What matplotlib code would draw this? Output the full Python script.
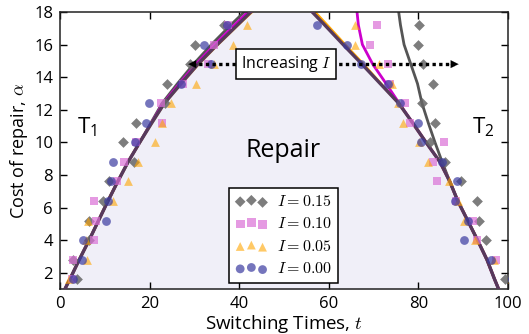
import matplotlib
matplotlib.use("Agg")
import matplotlib.pyplot as plt
import numpy as np

plt.rcParams['font.family'] = ['Open Sans', 'DejaVu Sans']
plt.rcParams['mathtext.fontset'] = 'cm'

# ---------------- data ----------------
levels = [1.6, 2.8, 4.0, 5.2, 6.4, 7.6, 8.8, 10.0, 11.2, 12.4, 13.6, 14.8, 16.0, 17.2]

# scatter: switching times (left boundary T1, right boundary T2) per I
d015_left = [3.7, 3.0, 6.5, 6.4, 9.5, 11.0, 16.5, 14.1, 17.0, 23.5, 23.9, 29.0, 30.1, 36.7]
d015_right = [99.3, 102, 95.2, 93.5, 93.0, 89.6, 85.9, 82.6, 83.6, 80.7, 83.3, 81.1, 79.8, 80.2]
d010_left = [2.6, 2.8, 7.6, 8.1, 7.6, 12.8, 14.3, 16.9, 22.8, 22.6, 27.5, 33.0, 34.4, 37.5]
d010_right = [101.5, 97.3, 93.0, 92.1, 88.4, 84.2, 83.3, 85.7, 78.1, 77.0, 73.7, 73.3, 69.3, 70.7]
d005_left = [1.9, 6.1, 5.8, 6.3, 11.9, 15.2, 17.4, 21.1, 22.8, 24.8, 30.4, 34.4, 38.7, 41.7]
d005_right = [101, 96.9, 92.6, 90.1, 88.8, 86.8, 82.2, 80.2, 76.5, 75.5, 74.1, 71.1, 65.9, 65.8]
d000_left = [2.9, 4.8, 5.2, 10.2, 10.7, 11.3, 11.9, 16.7, 19.1, 19.9, 26.9, 33.7, 32.1, 37.3]
d000_right = [101, 96.3, 90.2, 91.1, 88.1, 88.7, 85.2, 80.6, 80.0, 75.8, 73.2, 67.2, 64.1, 57.3]

# boundary curves
curve_alpha = [1.0, 1.6, 2.8, 4.0, 5.2, 6.4, 7.6, 8.8, 10.0, 11.2, 12.4, 13.6, 14.8, 16.0, 17.2, 18.0]
c000_left = [1.1, 2.2, 4.3, 6.5, 8.6, 10.7, 12.9, 15.2, 17.8, 20.5, 23.3, 27.0, 30.8, 35.1, 39.6, 42.6]
c000_right = [97.9, 97.0, 95.3, 93.2, 91.0, 88.8, 87.0, 84.8, 81.7, 78.7, 75.6, 71.5, 67.4, 63.2, 59.1, 56.3]
c005_left = [1.1, 2.2, 4.3, 6.5, 8.6, 10.7, 12.9, 15.2, 17.8, 20.5, 23.3, 27.0, 30.9, 35.2, 39.7, 42.8]
c005_right = [97.9, 97.0, 95.3, 93.2, 91.0, 88.8, 87.0, 84.8, 81.7, 78.7, 75.6, 71.6, 67.7, 63.6, 59.6, 56.9]
c010_left = [1.1, 2.2, 4.3, 6.5, 8.6, 10.7, 12.9, 15.2, 17.8, 20.4, 23.0, 26.6, 30.3, 34.5, 38.9, 41.9]
c010_right = [97.9, 97.0, 95.3, 93.2, 91.0, 88.8, 87.0, 84.8, 81.7, 78.7, 75.7, 72.8, 69.8, 67.5, 66.6, 66.3]
c015_left = [1.1, 2.2, 4.3, 6.5, 8.6, 10.7, 12.9, 15.2, 17.8, 20.3, 22.8, 26.2, 29.8, 33.8, 38.1, 41.1]
c015_right = [97.9, 97.0, 95.3, 93.2, 91.0, 88.8, 87.0, 85.3, 83.7, 82.2, 80.8, 79.8, 78.3, 76.8, 76.0, 75.6]

legend_labels = [r'$I = 0.15$', r'$I = 0.10$', r'$I = 0.05$', r'$I = 0.00$']

# ---------------- figure ----------------
fig = plt.figure(figsize=(5.29, 3.34), dpi=100)
ax = fig.add_axes([60/529, 45/334, 448/529, 277/334])

ax.fill_betweenx(curve_alpha, c000_left, c000_right, color='#f0eff8', zorder=0, lw=0)

# lines
ax.plot(c015_left, curve_alpha, color='#555555', lw=2.0, zorder=2)
ax.plot(c015_right, curve_alpha, color='#555555', lw=2.0, zorder=2)
ax.plot(c005_left, curve_alpha, color='#ffa500', lw=2.0, zorder=2.2)
ax.plot(c005_right, curve_alpha, color='#ffa500', lw=2.0, zorder=2.2)
ax.plot(c010_left, curve_alpha, color='#cc00cc', lw=1.8, zorder=2.5)
ax.plot(c010_right, curve_alpha, color='#cc00cc', lw=2.0, zorder=2.5)
ax.plot(c000_left, curve_alpha, color='#563a5c', lw=2.4, zorder=3)
ax.plot(c000_right, curve_alpha, color='#563a5c', lw=2.4, zorder=3)

# scatter points
lv2 = levels + levels
ax.scatter(d015_left + d015_right, lv2, marker='D', s=30, color='#666666', alpha=0.85,
           lw=0, zorder=5, label=legend_labels[0])
ax.scatter(d010_left + d010_right, lv2, marker='s', s=40, color='#da70d6', alpha=0.7,
           lw=0, zorder=5, label=legend_labels[1])
ax.scatter(d005_left + d005_right, lv2, marker='^', s=40, color='#ffa500', alpha=0.6,
           lw=0, zorder=5, label=legend_labels[2])
ax.scatter(d000_left + d000_right, lv2, marker='o', s=40, color='#3a3aa0', alpha=0.7,
           lw=0, zorder=5, label=legend_labels[3])

ax.set_xlim(0, 100)
ax.set_ylim(1, 18)
ax.set_xticks([0, 20, 40, 60, 80, 100])
ax.set_yticks([2, 4, 6, 8, 10, 12, 14, 16, 18])
ax.tick_params(direction='in', top=True, right=True, length=5, width=1,
               labelsize=12, pad=5)
for sp in ax.spines.values():
    sp.set_linewidth(1.1)
    sp.set_color('#222222')

ax.set_xlabel(r'Switching Times, $t$', fontsize=13.5, labelpad=1)
ax.set_ylabel(r'Cost of repair, $\alpha$', fontsize=13, labelpad=3)

# texts
ax.text(6.0, 10.9, r'$\mathregular{T_1}$', fontsize=16, ha='center', va='center')
ax.text(94.5, 10.9, r'$\mathregular{T_2}$', fontsize=16, ha='center', va='center')
ax.text(49.8, 9.5, 'Repair', fontsize=18, ha='center', va='center')

# arrow
ax.plot([29.5, 88.0], [14.8, 14.8], color='black', lw=2.4, ls=(0, (1, 1)), zorder=6)
ax.annotate('', xy=(28.0, 14.8), xytext=(31.5, 14.8),
            arrowprops=dict(arrowstyle='-|>', color='black', lw=0.1,
                            mutation_scale=14), zorder=6)
ax.annotate('', xy=(89.6, 14.8), xytext=(86.0, 14.8),
            arrowprops=dict(arrowstyle='-|>', color='black', lw=0.1,
                            mutation_scale=14), zorder=6)
ax.text(50.5, 14.8, r'Increasing $I$', fontsize=11.5, ha='center', va='center', zorder=7,
        bbox=dict(boxstyle='square,pad=0.3', fc='white', ec='black', lw=1.1))

leg = ax.legend(loc='lower center', bbox_to_anchor=(0.499, 0.02), scatterpoints=3,
                fontsize=11.5, frameon=True, fancybox=False, edgecolor='black',
                framealpha=1, borderpad=0.4, labelspacing=0.4, handletextpad=0.6,
                borderaxespad=0.0)
leg.get_frame().set_linewidth(1.1)
leg.set_zorder(8)

fig.savefig('out.png', dpi=100)
